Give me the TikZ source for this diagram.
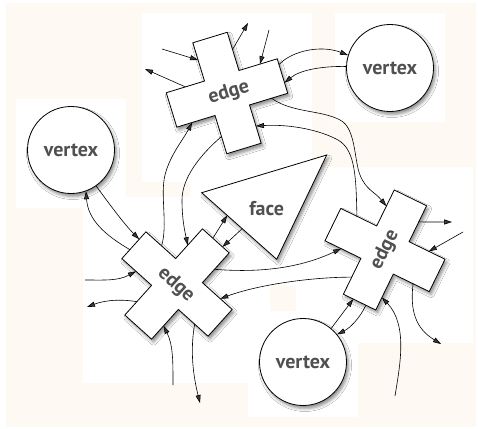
\documentclass[tikz,border=0pt]{standalone}
\usepackage{fontspec}
\setmainfont{PT Sans}
\usetikzlibrary{arrows.meta,shadows.blur,calc}
\definecolor{cream}{RGB}{254,250,243}
\definecolor{txtgray}{RGB}{80,80,80}
\tikzset{
  shp/.style={draw=black, line width=0.8pt, fill=white,
    blur shadow={shadow xshift=2pt, shadow yshift=-3pt, shadow blur radius=3pt, shadow opacity=45}},
  lbl/.style={font=\bfseries\fontsize{20}{20}\selectfont, text=txtgray, inner sep=0pt},
  vtx/.style={shp, circle, minimum size=87pt, inner sep=0pt, lbl},
  conn/.style={line width=0.6pt, -{Triangle[length=8pt,width=5pt]}},
  crosspath/.style={shp},
}
\newcommand{\crossoutline}{(-18,-58) -- (18,-58) -- (18,-18) -- (58,-18) -- (58,18) -- (18,18) -- (18,58) -- (-18,58) -- (-18,18) -- (-58,18) -- (-58,-18) -- (-18,-18) -- cycle}
\begin{document}
\begin{tikzpicture}[x=1pt,y=-1pt]
\useasboundingbox (0,0) rectangle (478,428);
% background
\fill[cream] (6,3) rectangle (476,427);
\fill[white] (141.7,13.3) rectangle (311.7,181.7);
\fill[white] (335,13.3) rectangle (445,121.7);
\fill[white] (16,99) rectangle (126,208.3);
\fill[white] (190,166.7) rectangle (338,285.7);
\fill[white] (296,166.7) rectangle (473,343.3);
\fill[white] (83.3,196.7) rectangle (270,383.3);
\fill[white] (248,310.7) rectangle (358,416.7);

% vertices
\node[vtx] (v1) at (390,68) {vertex};
\node[vtx] (v2) at (71,150) {vertex};
\node[vtx] (v3) at (303,362) {vertex};

% face
\coordinate (fA) at (201.7,192.7);
\coordinate (fB) at (326.7,155);
\coordinate (fC) at (276.7,259.3);
\path[shp] (fA) -- (fB) -- (fC) -- cycle;
\node[lbl] (f) at (266.7,208.3) {face};
\coordinate (f-c5) at ($(fA)!0.34!(fC)$);
\coordinate (f-c6) at ($(fA)!0.54!(fC)$);

% top cross
\begin{scope}[shift={(227,93)}, rotate=17]
  \path[crosspath] \crossoutline;
  \coordinate (e1-a1) at (-18,-40);
  \coordinate (e1-a2) at (-38,-18);
  \coordinate (e1-a3) at (18,-40);
  \coordinate (e1-a4) at (40,-18);
  \coordinate (e1-a5) at (58,-12);
  \coordinate (e1-a6) at (58,7);
  \coordinate (e1-a7) at (41,18);
  \coordinate (e1-a8) at (18,40);
  \coordinate (e1-a9) at (-42,18);
  \coordinate (e1-a10) at (-18,40);
\end{scope}
\node[lbl, rotate=17] (e1) at (229,93) {edge};

% right cross
\begin{scope}[shift={(385,250)}, rotate=64]
  \path[crosspath] \crossoutline;
  \coordinate (e3-a7) at (40,-18);
  \coordinate (e3-a8) at (18,-40);
  \coordinate (e3-c7) at (-18,-40);
  \coordinate (e3-c8) at (-39,-18);
  \coordinate (e3-d1) at (40,18);
  \coordinate (e3-d2) at (18,40);
  \coordinate (e3-d3) at (-18,40);
  \coordinate (e3-d4) at (-44,18);
  \coordinate (e3-d5) at (-58,-7);
  \coordinate (e3-d6) at (-58,7);
\end{scope}
\node[lbl, rotate=64] (e3) at (385,250) {edge};

% bottom-left cross
\begin{scope}[shift={(177,284)}, rotate=-42]
  \path[crosspath] \crossoutline;
  \coordinate (e2-a9) at (-37,-18);
  \coordinate (e2-a10) at (-18,-36);
  \coordinate (e2-b1) at (-58,-8);
  \coordinate (e2-b2) at (-58,6);
  \coordinate (e2-c1) at (-39,18);
  \coordinate (e2-c2) at (-18,40);
  \coordinate (e2-c3) at (18,40);
  \coordinate (e2-c4) at (40,18);
  \coordinate (e2-c5) at (-4,-58);
  \coordinate (e2-c6) at (9,-58);
  \coordinate (e2-c7) at (18,-36);
  \coordinate (e2-c8) at (42,-18);
\end{scope}
\node[lbl, rotate=-42] (e2) at (176,285) {edge};

% free ends
\coordinate (a1s) at (162,49);
\coordinate (a2e) at (145,69);
\coordinate (a3e) at (248,23);
\coordinate (a4s) at (269,30);
\coordinate (c1s) at (85,280);
\coordinate (c2e) at (87,307);
\coordinate (c3s) at (173,385);
\coordinate (c4e) at (200,403);
\coordinate (d1e) at (452,222);
\coordinate (d2s) at (463,232);
\coordinate (d3e) at (441,344);
\coordinate (d4s) at (395,396);

% connectors of the top cross
\draw[conn] (a1s) -- (e1-a1);
\draw[conn] (e1-a2) -- (a2e);
\draw[conn] (e1-a3) -- (a3e);
\draw[conn] (a4s) -- (e1-a4);
\draw[conn] (e1-a5) .. controls (293,50) and (322,45) .. (v1.163);
\draw[conn] (v1.178) .. controls (322,66) and (300,70) .. (e1-a6);
\draw[conn] (e1-a7) .. controls (292,113) and (322,110) .. (340,120)
   .. controls (356,128) and (354,160) .. (360,175)
   .. controls (366,190) and (375,192) .. (e3-a7);
\draw[conn] (e3-a8) .. controls (356,180) and (356,150) .. (338,140)
   .. controls (320,130) and (290,124) .. (e1-a8);
\draw[conn] (e2-a9) .. controls (168,225) and (160,195) .. (165,175)
   .. controls (170,155) and (183,140) .. (e1-a9);
\draw[conn] (e1-a10) .. controls (200,155) and (182,178) .. (182,200)
   .. controls (182,220) and (185,232) .. (e2-a10);

% left vertex
\draw[conn] (v2.-55) .. controls (110,205) and (125,225) .. (e2-b1);
\draw[conn] (e2-b2) .. controls (105,235) and (88,220) .. (v2.-70);

% bottom-left cross
\draw[conn] (c1s) .. controls (105,280) and (118,281) .. (e2-c1);
\draw[conn] (e2-c2) .. controls (115,298) and (100,302) .. (c2e);
\draw[conn] (c3s) .. controls (173,360) and (173,345) .. (e2-c3);
\draw[conn] (e2-c4) .. controls (190,350) and (193,375) .. (c4e);
\draw[conn] (e2-c5) -- (f-c5);
\draw[conn] (f-c6) -- (e2-c6);
\draw[conn] (e2-c7) .. controls (260,273) and (300,268) .. (e3-c7);
\draw[conn] (e3-c8) .. controls (315,277) and (260,284) .. (e2-c8);

% right cross
\draw[conn] (e3-d1) -- (d1e);
\draw[conn] (d2s) -- (e3-d2);
\draw[conn] (e3-d3) .. controls (410,310) and (415,328) .. (d3e);
\draw[conn] (d4s) .. controls (400,365) and (408,325) .. (e3-d4);
\draw[conn] (v3.50) -- (e3-d5);
\draw[conn] (e3-d6) .. controls (360,318) and (350,328) .. (v3.39);
\end{tikzpicture}
\end{document}
